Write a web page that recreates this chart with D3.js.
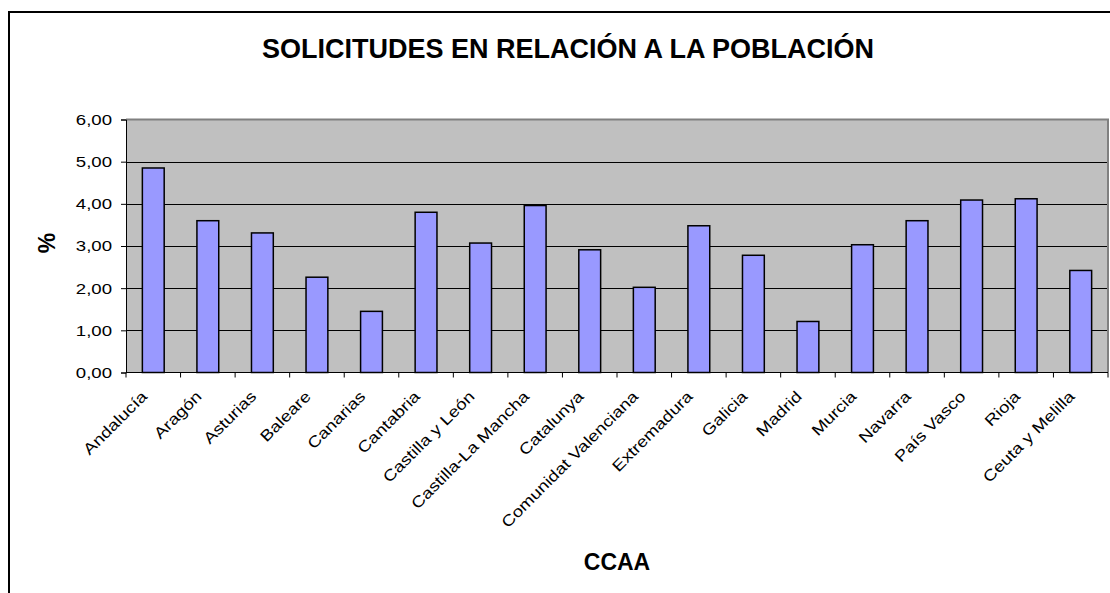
<!DOCTYPE html>
<html>
<head>
<meta charset="utf-8">
<script src="https://cdn.jsdelivr.net/npm/d3@7"></script>
<style>
  html, body { margin: 0; padding: 0; background: #fff; }
  svg { display: block; }
  text { font-family: "Liberation Sans", Arial, sans-serif; }
</style>
</head>
<body>
<svg id="chart" width="1110" height="593"></svg>
<script>
const categories = ["Andalucía", "Aragón", "Asturias", "Baleare", "Canarias", "Cantabria",
  "Castilla y León", "Castilla-La Mancha", "Catalunya", "Comunidat Valenciana", "Extremadura",
  "Galicia", "Madrid", "Murcia", "Navarra", "País Vasco", "Rioja", "Ceuta y Melilla"];
const values = [4.85, 3.60, 3.31, 2.26, 1.45, 3.80, 3.07, 3.96, 2.91, 2.02, 3.48, 2.78, 1.21, 3.03, 3.60, 4.09, 4.12, 2.42];
const yTicks = [0, 1, 2, 3, 4, 5, 6];
const title = "SOLICITUDES EN RELACIÓN A LA POBLACIÓN";
const yLabel = "%";
const xLabel = "CCAA";

const svg = d3.select("#chart");
const plot = { left: 126, right: 1108, top: 119.5, bottom: 372.5 };
const STRETCH = 1.2;

function widen(sel) {
  sel.each(function () {
    const len = this.getComputedTextLength();
    d3.select(this).attr("textLength", len * STRETCH).attr("lengthAdjust", "spacingAndGlyphs");
  });
}

// outer chart frame
svg.append("rect")
  .attr("x", 9).attr("y", 12).attr("width", 1140).attr("height", 640)
  .attr("fill", "#fff").attr("stroke", "#000").attr("stroke-width", 2);

svg.append("text")
  .attr("x", 568).attr("y", 58)
  .attr("text-anchor", "middle")
  .attr("font-size", 27).attr("font-weight", "bold")
  .text(title);

const x = d3.scaleBand().domain(categories).range([plot.left, plot.right]).paddingInner(0.6).paddingOuter(0.3);
const xb = d3.scaleBand().domain(categories).range([plot.left, plot.right]);
const y = d3.scaleLinear().domain([0, 6]).range([plot.bottom, plot.top]);

// plot area background
svg.append("rect")
  .attr("x", plot.left).attr("y", plot.top)
  .attr("width", plot.right - plot.left).attr("height", plot.bottom - plot.top)
  .attr("fill", "#c0c0c0");

// gridlines
svg.append("g").selectAll("line").data(yTicks.filter(d => d > 0 && d < 6)).join("line")
  .attr("x1", plot.left).attr("x2", plot.right)
  .attr("y1", d => Math.round(y(d)) + 0.5).attr("y2", d => Math.round(y(d)) + 0.5)
  .attr("stroke", "#000").attr("stroke-width", 1);

// plot area border top/right (gray)
svg.append("path")
  .attr("d", `M${plot.left},${plot.top}H${plot.right}V${plot.bottom}`)
  .attr("fill", "none").attr("stroke", "#808080").attr("stroke-width", 2);

// bars
svg.append("g").selectAll("rect").data(categories).join("rect")
  .attr("x", (d) => x(d))
  .attr("width", x.bandwidth())
  .attr("y", (d, i) => y(values[i]))
  .attr("height", (d, i) => y(0) - y(values[i]))
  .attr("fill", "#9999ff").attr("stroke", "#000").attr("stroke-width", 1.5);

// y axis
const yAxis = d3.axisLeft(y).tickValues(yTicks).tickSize(5).tickPadding(9)
  .tickFormat(d => d3.format(".2f")(d).replace(".", ","));
const gy = svg.append("g").attr("transform", `translate(${plot.left},0)`).call(yAxis);
gy.attr("font-size", null).attr("font-family", null);
gy.selectAll("text").attr("font-size", 15.5).attr("fill", "#000").call(widen);
gy.selectAll("line,path").attr("stroke", "#000");

// x axis
const xAxis = d3.axisBottom(xb).tickSize(0).tickFormat("");
const gx = svg.append("g").attr("transform", `translate(0,${plot.bottom})`).call(xAxis);
gx.select("path").attr("stroke", "#000").attr("d", `M${plot.left},0H${plot.right}`);
// tick marks at category boundaries
svg.append("g").selectAll("line").data(d3.range(categories.length + 1)).join("line")
  .attr("x1", i => plot.left + i * xb.step()).attr("x2", i => plot.left + i * xb.step())
  .attr("y1", plot.bottom).attr("y2", plot.bottom + 5)
  .attr("stroke", "#000");

// x labels
svg.append("g").selectAll("text").data(categories).join("text")
  .attr("transform", d => `translate(${xb(d) + xb.bandwidth() / 2 - 9},${plot.bottom + 21}) rotate(-45)`)
  .attr("text-anchor", "end")
  .attr("dy", "0.35em")
  .attr("font-size", 15.5)
  .text(d => d)
  .call(widen);

// axis titles
svg.append("text")
  .attr("transform", "translate(55,243) rotate(-90)")
  .attr("text-anchor", "middle")
  .attr("font-size", 23).attr("font-weight", "bold")
  .text(yLabel);

svg.append("text")
  .attr("x", (plot.left + plot.right) / 2).attr("y", 570)
  .attr("text-anchor", "middle")
  .attr("font-size", 23).attr("font-weight", "bold")
  .text(xLabel);
</script>
</body>
</html>
